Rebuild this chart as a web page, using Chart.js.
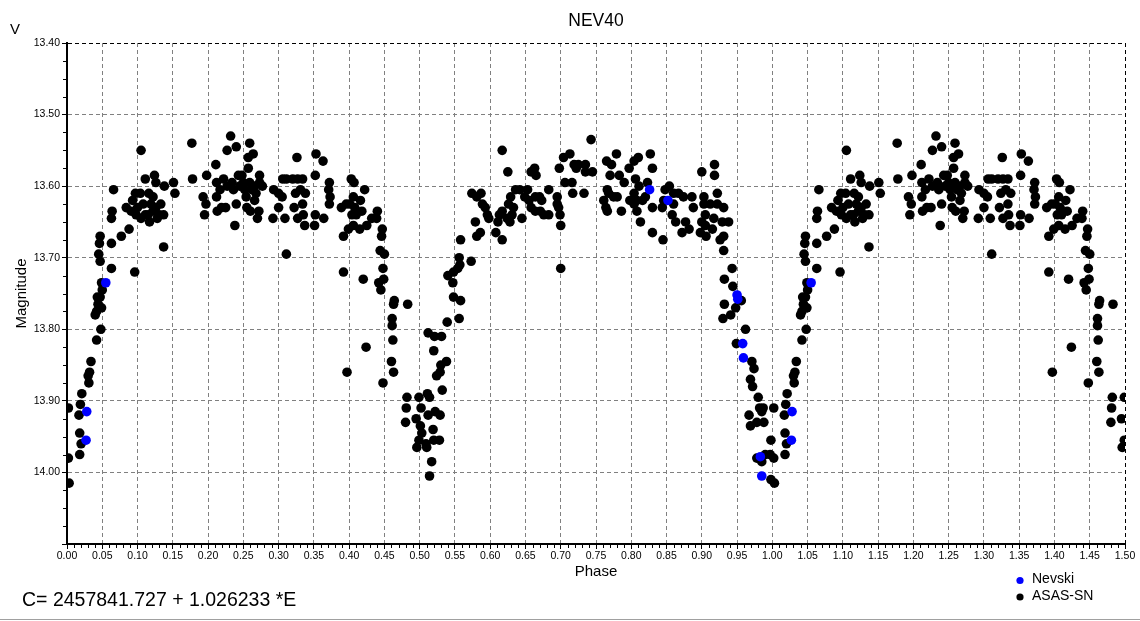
<!doctype html>
<html lang="en">
<head>
<meta charset="utf-8">
<title>NEV40</title>
<script src="https://cdn.jsdelivr.net/npm/chart.js@4.4.1/dist/chart.umd.min.js"></script>
<style>
  html, body { margin: 0; padding: 0; background: #fff; }
  #wrap { width: 1140px; height: 621px; }
</style>
</head>
<body>
<div id="wrap"><canvas id="lc" width="1140" height="621"></canvas></div>
<script>
// phase 0..1; the program repeats phases < 0.5 after 1.0
var nevskiPhase = [0.027, 0.028, 0.055, 0.826, 0.852, 0.950, 0.951, 0.958, 0.959, 0.983, 0.985];
var nevskiMag   = [13.955, 13.915, 13.735, 13.605, 13.62, 13.752, 13.758, 13.82, 13.84, 13.978, 14.005];

var asasPhase = [
  0.003, 0.002, 0.002, 0.018, 0.020, 0.018, 0.017, 0.019, 0.021, 0.031,
  0.030, 0.032, 0.034, 0.042, 0.048, 0.040, 0.042, 0.049, 0.044, 0.043,
  0.047, 0.050, 0.049, 0.063, 0.047, 0.045, 0.096, 0.137, 0.063, 0.046,
  0.047, 0.077, 0.088, 0.063, 0.064, 0.084, 0.093, 0.066, 0.097, 0.104,
  0.091, 0.098, 0.105, 0.111, 0.117, 0.115, 0.122, 0.126, 0.131, 0.137,
  0.116, 0.122, 0.126, 0.124, 0.111, 0.138, 0.151, 0.153, 0.105, 0.177,
  0.178, 0.198, 0.211, 0.193, 0.197, 0.195, 0.212, 0.213, 0.219, 0.225,
  0.238, 0.240, 0.212, 0.222, 0.227, 0.234, 0.236, 0.217, 0.243, 0.227,
  0.240, 0.232, 0.108, 0.119, 0.128, 0.100, 0.133,

  0.259, 0.257, 0.264, 0.257, 0.250, 0.252, 0.259, 0.262, 0.266, 0.273,
  0.273, 0.254, 0.266, 0.255, 0.260, 0.272, 0.270, 0.292, 0.300, 0.309,
  0.326, 0.353, 0.363, 0.352, 0.306, 0.311, 0.320, 0.327, 0.334, 0.293,
  0.300, 0.305, 0.324, 0.331, 0.338, 0.334, 0.322, 0.327, 0.335, 0.337,
  0.352, 0.351, 0.364, 0.372, 0.371, 0.373, 0.372, 0.311, 0.392, 0.389,
  0.396, 0.403, 0.407, 0.406, 0.401, 0.408, 0.416, 0.418, 0.422, 0.392,
  0.399, 0.406, 0.415, 0.425, 0.432, 0.439, 0.440, 0.447, 0.446, 0.444,
  0.450, 0.420, 0.442, 0.449, 0.448, 0.445, 0.464, 0.463, 0.483, 0.461,
  0.461, 0.462, 0.424, 0.460, 0.463, 0.397, 0.448, 0.482, 0.481, 0.480,
  0.245, 0.268, 0.277, 0.248, 0.410, 0.404,

  0.499, 0.495, 0.502, 0.501, 0.503, 0.499, 0.496, 0.509, 0.510, 0.512,
  0.511, 0.514, 0.519, 0.520, 0.528, 0.517, 0.514, 0.522, 0.529, 0.532,
  0.524, 0.529, 0.530, 0.538, 0.520, 0.512, 0.521, 0.531, 0.539, 0.556,
  0.548, 0.558, 0.547, 0.540, 0.548, 0.554, 0.557, 0.556, 0.573, 0.558,
  0.581, 0.586, 0.579, 0.608, 0.617, 0.611, 0.613, 0.598, 0.596, 0.593,
  0.589, 0.574, 0.581, 0.587, 0.617, 0.624, 0.628, 0.631, 0.626, 0.633,
  0.629, 0.636, 0.645, 0.642, 0.649, 0.653, 0.655, 0.658, 0.664, 0.671,
  0.676, 0.683, 0.664, 0.670, 0.673, 0.683, 0.658, 0.663, 0.665, 0.617,
  0.625, 0.695, 0.695, 0.697, 0.699, 0.700, 0.700, 0.698, 0.704, 0.713,
  0.706, 0.716, 0.717, 0.719, 0.722, 0.725,

  0.735, 0.735, 0.745, 0.733, 0.743, 0.765, 0.779, 0.772, 0.770, 0.783,
  0.790, 0.766, 0.768, 0.775, 0.780, 0.761, 0.764, 0.766, 0.786, 0.797,
  0.804, 0.810, 0.827, 0.806, 0.811, 0.823, 0.830, 0.804, 0.798, 0.804,
  0.808, 0.816, 0.820, 0.808, 0.813, 0.830, 0.830, 0.845, 0.844, 0.846,
  0.848, 0.854, 0.860, 0.867, 0.860, 0.858, 0.863, 0.874, 0.877, 0.882,
  0.872, 0.886, 0.888, 0.900, 0.918, 0.918, 0.922, 0.903, 0.903, 0.912,
  0.922, 0.931, 0.905, 0.917, 0.929, 0.938, 0.900, 0.905, 0.915, 0.898,
  0.906, 0.931, 0.926, 0.931, 0.943, 0.932, 0.944, 0.956, 0.948, 0.932,
  0.941, 0.930, 0.962, 0.949,

  0.971, 0.974, 0.969, 0.972, 0.980, 0.982, 0.987, 0.985, 0.967, 0.969,
  0.978, 0.988, 0.998, 0.990, 0.978, 0.985, 0.997, 0.998
];

var asasMag = [
  14.015, 13.98, 13.91, 13.975, 13.96, 13.945, 13.92, 13.905, 13.89, 13.875,
  13.865, 13.86, 13.845, 13.815, 13.80, 13.78, 13.775, 13.77, 13.765, 13.755,
  13.755, 13.745, 13.735, 13.715, 13.705, 13.695, 13.72, 13.685, 13.68, 13.68,
  13.67, 13.67, 13.66, 13.645, 13.635, 13.63, 13.62, 13.605, 13.61, 13.61,
  13.635, 13.64, 13.645, 13.64, 13.65, 13.64, 13.635, 13.63, 13.64, 13.64,
  13.61, 13.615, 13.595, 13.585, 13.59, 13.60, 13.595, 13.61, 13.55, 13.54,
  13.59, 13.585, 13.57, 13.615, 13.625, 13.64, 13.615, 13.635, 13.63, 13.63,
  13.655, 13.625, 13.595, 13.59, 13.60, 13.595, 13.605, 13.605, 13.585, 13.55,
  13.545, 13.53, 13.625, 13.625, 13.645, 13.63, 13.625,

  13.54, 13.56, 13.555, 13.575, 13.595, 13.605, 13.595, 13.605, 13.60, 13.585,
  13.595, 13.615, 13.62, 13.63, 13.635, 13.635, 13.645, 13.645, 13.63, 13.645,
  13.56, 13.555, 13.565, 13.585, 13.59, 13.59, 13.59, 13.59, 13.59, 13.605,
  13.61, 13.615, 13.61, 13.605, 13.61, 13.625, 13.63, 13.645, 13.64, 13.655,
  13.64, 13.655, 13.645, 13.595, 13.605, 13.615, 13.625, 13.695, 13.72, 13.63,
  13.625, 13.59, 13.595, 13.615, 13.625, 13.63, 13.62, 13.635, 13.605, 13.67,
  13.66, 13.655, 13.66, 13.655, 13.645, 13.645, 13.635, 13.66, 13.67, 13.69,
  13.695, 13.73, 13.735, 13.73, 13.715, 13.745, 13.76, 13.765, 13.765, 13.785,
  13.795, 13.815, 13.825, 13.845, 13.86, 13.86, 13.875, 13.895, 13.91, 13.93,
  13.60, 13.61, 13.60, 13.585, 13.64, 13.64,

  13.895, 13.925, 13.91, 13.935, 13.945, 13.955, 13.965, 13.96, 13.965, 13.92,
  13.89, 13.895, 13.94, 13.955, 13.955, 13.985, 14.005, 13.915, 13.92, 13.885,
  13.865, 13.86, 13.85, 13.845, 13.83, 13.805, 13.81, 13.81, 13.79, 13.785,
  13.755, 13.76, 13.735, 13.725, 13.72, 13.715, 13.71, 13.70, 13.705, 13.675,
  13.67, 13.665, 13.65, 13.665, 13.675, 13.65, 13.64, 13.645, 13.64, 13.63,
  13.625, 13.61, 13.615, 13.61, 13.635, 13.645, 13.65, 13.64, 13.625, 13.63,
  13.615, 13.605, 13.645, 13.605, 13.615, 13.605, 13.62, 13.63, 13.635, 13.635,
  13.64, 13.64, 13.615, 13.615, 13.62, 13.605, 13.58, 13.575, 13.585, 13.55,
  13.58, 13.615, 13.625, 13.63, 13.64, 13.655, 13.715, 13.575, 13.56, 13.555,
  13.595, 13.595, 13.61, 13.57, 13.575, 13.57,

  13.57, 13.58, 13.58, 13.61, 13.535, 13.565, 13.555, 13.57, 13.585, 13.585,
  13.595, 13.605, 13.61, 13.615, 13.615, 13.62, 13.63, 13.635, 13.635, 13.575,
  13.565, 13.56, 13.555, 13.59, 13.60, 13.595, 13.575, 13.61, 13.62, 13.625,
  13.62, 13.62, 13.615, 13.635, 13.65, 13.63, 13.665, 13.675, 13.63, 13.62,
  13.605, 13.60, 13.61, 13.61, 13.625, 13.64, 13.65, 13.615, 13.65, 13.66,
  13.665, 13.615, 13.63, 13.58, 13.57, 13.585, 13.61, 13.615, 13.625, 13.625,
  13.625, 13.63, 13.64, 13.645, 13.65, 13.65, 13.65, 13.655, 13.66, 13.665,
  13.67, 13.67, 13.675, 13.69, 13.715, 13.73, 13.74, 13.76, 13.77, 13.765,
  13.78, 13.785, 13.80, 13.82,

  13.845, 13.855, 13.87, 13.88, 13.895, 13.91, 13.91, 13.915, 13.92, 13.935,
  13.93, 13.93, 13.955, 13.975, 13.98, 13.985, 13.975, 14.01
];

var formulaText = "C= 2457841.727 + 1.026233 *E";
var FONT = "'Liberation Sans', Arial, sans-serif";

function folded(phases, mags) {
  var pts = [];
  for (var i = 0; i < phases.length; i++) {
    pts.push({x: phases[i], y: mags[i]});
  }
  for (var j = 0; j < phases.length; j++) {
    if (phases[j] < 0.5) pts.push({x: phases[j] + 1, y: mags[j]});
  }
  return pts;
}

// small ticks, the extra texts and the legend box
var extras = {
  id: 'extras',
  afterDraw: function(chart) {
    var ctx = chart.ctx, a = chart.chartArea;
    var xs = chart.scales.x, ys = chart.scales.y;
    ctx.save();
    ctx.strokeStyle = '#000';
    ctx.lineWidth = 1;
    ctx.beginPath();
    for (var i = 1; i < 150; i++) {
      if (i % 5 === 0) continue;
      var px = Math.round(xs.getPixelForValue(i / 100)) + 0.5;
      ctx.moveTo(px, a.bottom + 1);
      ctx.lineTo(px, a.bottom + 4);
    }
    for (var k = 1; k < 28; k++) {
      if (k % 4 === 0) continue;
      var py = Math.round(ys.getPixelForValue(13.4 + k * 0.025)) + 0.5;
      ctx.moveTo(a.left - 4, py);
      ctx.lineTo(a.left - 1, py);
    }
    ctx.stroke();

    ctx.fillStyle = '#000';
    ctx.textBaseline = 'alphabetic';
    ctx.textAlign = 'left';
    ctx.font = '15px ' + FONT;
    ctx.fillText('V', 10, 34);
    ctx.font = '19.5px ' + FONT;
    ctx.fillText(formulaText, 22, 606);

    // legend
    var items = [['Nevski', '#0000ff', 580.5], ['ASAS-SN', '#000000', 597]];
    ctx.font = '14px ' + FONT;
    ctx.textBaseline = 'middle';
    items.forEach(function(it) {
      ctx.fillStyle = it[1];
      ctx.beginPath();
      ctx.arc(1020, it[2], 3.6, 0, Math.PI * 2);
      ctx.fill();
      ctx.fillStyle = '#000';
      ctx.fillText(it[0], 1032, it[2] - 1);
    });

    ctx.fillStyle = '#a0a0a0';
    ctx.fillRect(0, 619, 1140, 1);
    ctx.restore();
  }
};

var ctx = document.getElementById('lc').getContext('2d');
var lc = new Chart(ctx, {
  type: 'scatter',
  data: {
    datasets: [{
      label: 'Nevski',
      data: folded(nevskiPhase, nevskiMag),
      backgroundColor: '#0000ff',
      borderWidth: 0,
      pointRadius: 4.8
    }, {
      label: 'ASAS-SN',
      data: folded(asasPhase, asasMag),
      backgroundColor: '#000000',
      borderWidth: 0,
      pointRadius: 4.8
    }]
  },
  options: {
    responsive: false,
    animation: false,
    events: [],
    layout: { padding: { left: 0, right: 15, top: 0, bottom: 17 } },
    plugins: {
      legend: { display: false },
      tooltip: { enabled: false },
      title: {
        display: true,
        text: 'NEV40',
        fullSize: false,
        color: '#000',
        font: { family: FONT, size: 17.5, weight: 'normal', lineHeight: 1.2 },
        padding: { top: 11, bottom: 11 }
      }
    },
    scales: {
      x: {
        type: 'linear',
        min: 0,
        max: 1.5,
        afterFit: function(s) { s.height = 60; },
        ticks: {
          stepSize: 0.05,
          color: '#000',
          padding: 1,
          maxRotation: 0,
          autoSkip: false,
          font: { family: FONT, size: 10.5 },
          callback: function(v) { return v.toFixed(2); }
        },
        grid: {
          color: function(c) { return c.tick && c.tick.value === 1.5 ? '#000' : '#808080'; },
          tickColor: '#000',
          tickLength: 5
        },
        border: { display: true, color: '#000', width: 2, dash: [4, 3] },
        title: {
          display: true,
          text: 'Phase',
          color: '#000',
          font: { family: FONT, size: 15 },
          padding: { top: 0, bottom: 23 }
        }
      },
      y: {
        type: 'linear',
        reverse: true,
        min: 13.4,
        max: 14.1,
        afterFit: function(s) { s.width = 67; },
        ticks: {
          stepSize: 0.1,
          color: '#000',
          padding: 2,
          autoSkip: false,
          font: { family: FONT, size: 10.5 },
          callback: function(v) { return v > 14.05 ? '' : v.toFixed(2); }
        },
        grid: {
          color: function(c) { return c.tick && c.tick.value === 13.4 ? '#000' : '#808080'; },
          tickColor: '#000',
          tickLength: 5
        },
        border: { display: true, color: '#000', width: 2, dash: [4, 3] },
        title: {
          display: true,
          text: 'Magnitude',
          color: '#000',
          font: { family: FONT, size: 15 },
          padding: { top: 12.5, bottom: 0 }
        }
      }
    }
  },
  plugins: [extras]
});
</script>
</body>
</html>
